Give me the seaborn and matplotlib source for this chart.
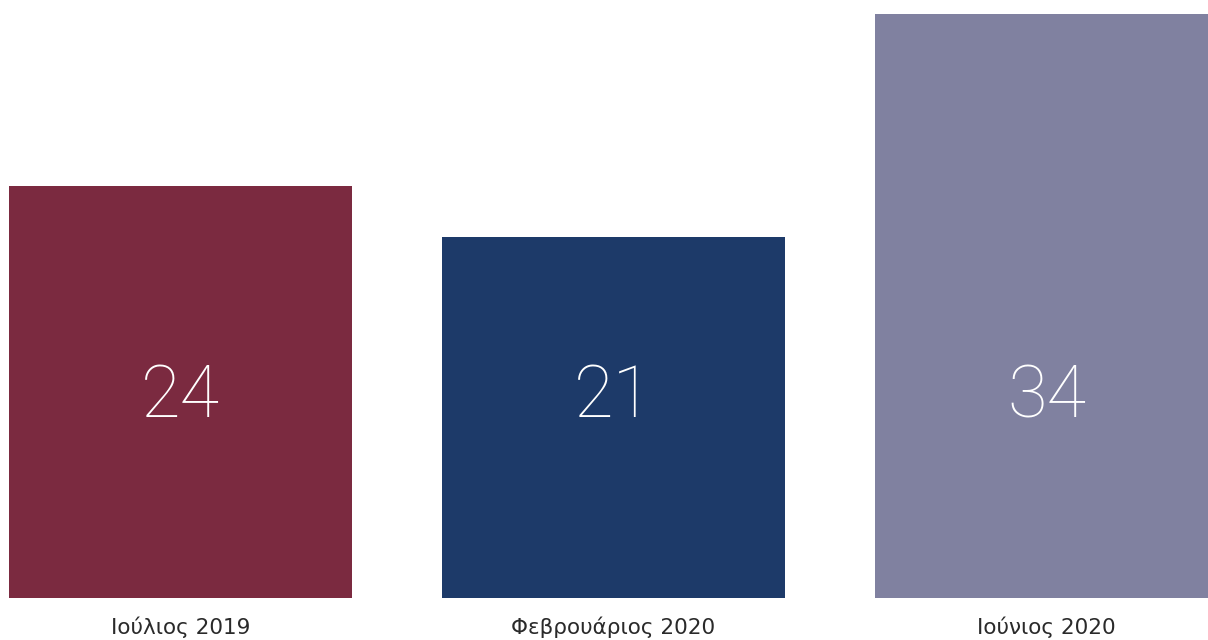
import matplotlib
matplotlib.use("Agg")
import matplotlib.pyplot as plt
import seaborn as sns
import pandas as pd

periods = ["Ιούλιος 2019", "Φεβρουάριος 2020", "Ιούνιος 2020"]
values = [24, 21, 34]
colors = ["#7b2a40", "#1d3a69", "#8081a0"]

df = pd.DataFrame({"period": periods, "value": values})

sns.set_style("white")
plt.rcParams["font.family"] = ["DejaVu Sans"]

fig = plt.figure(figsize=(12.08, 6.4), dpi=100)
ax = fig.add_axes([0, 42 / 640, 1, 598 / 640])

sns.barplot(data=df, x="period", y="value", hue="period", palette=colors,
            width=0.792, legend=False, saturation=1, linewidth=0, ax=ax)

# value labels inside the bars
for i, v in enumerate(values):
    ax.text(i, 12.1, str(v), ha="center", va="center_baseline", color="white",
            fontsize=52, fontweight="light", family=["Roboto", "DejaVu Sans"])

ax.set_xlim(-0.417, 2.373)
ax.set_ylim(0, 34.8)
ax.set_xlabel("")
ax.set_ylabel("")
ax.set_yticks([])
ax.tick_params(axis="x", length=0, labelsize=15.5, colors="#2a2a2a", pad=13)
sns.despine(left=True, bottom=True)

fig.savefig("out.png", dpi=100)
